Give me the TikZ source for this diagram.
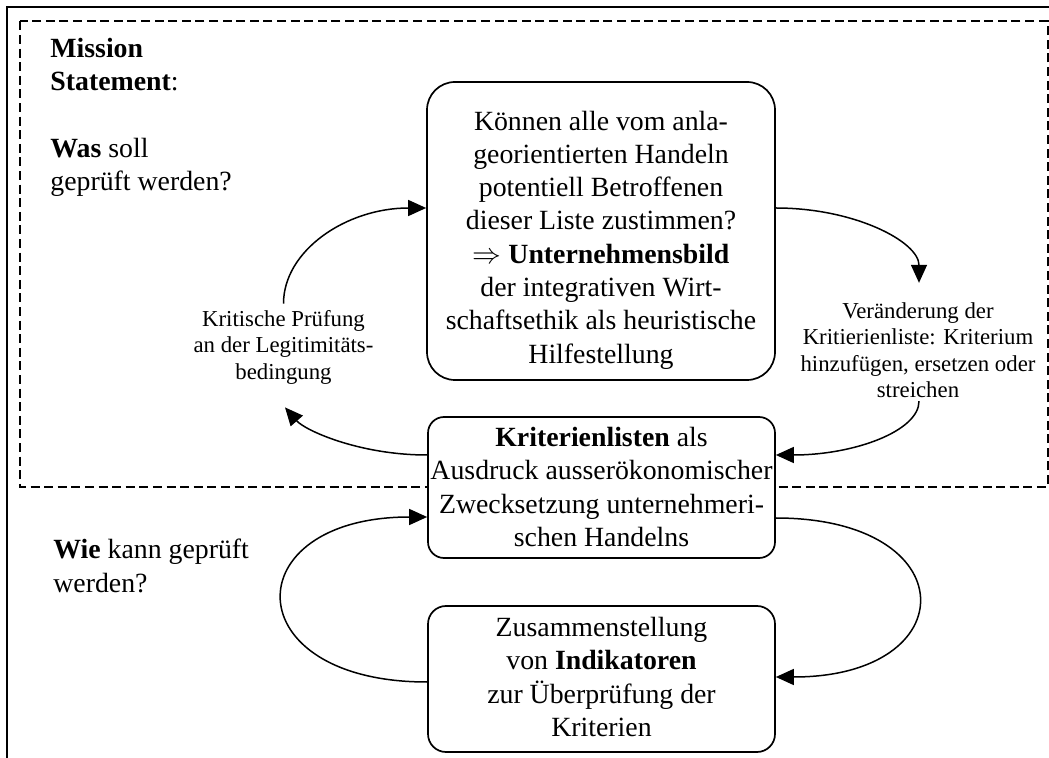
\documentclass[tikz,border=0pt]{standalone}
\usepackage{fontspec}
\setmainfont{Liberation Serif}
\usetikzlibrary{arrows.meta,calc}
\begin{document}
\begin{tikzpicture}[x=0.5pt,y=-0.5pt,
  bigtxt/.style={font=\fontsize{13.9pt}{16.65pt}\selectfont},
  smalltxt/.style={font=\fontsize{11.4pt}{13.25pt}\selectfont},
  box/.style={draw, line width=0.85pt, fill=white, inner sep=0pt},
  lbl/.style={inner sep=0pt, align=center},
  conn/.style={line width=0.75pt, -{Triangle[length=9pt,width=8pt]}},
]
\useasboundingbox (0,0) rectangle (1049,758);
% outer frame
\draw[line width=1.2pt] (7,758) -- (7,7) -- (1049,7);
% dashed area
\draw[line width=1pt, dash pattern=on 4.5pt off 2.3pt] (20,21.5) rectangle (1047.5,487);
% boxes
\node[box, rounded corners=14pt, minimum width=174pt, minimum height=149pt] (b1) at (601,231) {};
\node[box, rounded corners=8pt, minimum width=173.5pt, minimum height=70.5pt] (b2) at (601.5,487.5) {};
\node[box, rounded corners=9pt, minimum width=173.5pt, minimum height=73pt] (b3) at (601.5,679) {};
% box texts
\node[lbl, bigtxt] (t1) at (601,240) {Können alle vom anla-\\georientierten Handeln\\potentiell Betroffenen\\dieser Liste zustimmen?\\$\Rightarrow$ \textbf{Unternehmensbild}\\der integrativen Wirt-\\schaftsethik als heuristische\\Hilfestellung};
\node[lbl, bigtxt] (t2) at (601.5,487) {\textbf{Kriterienlisten} als\\Ausdruck ausserökonomischer\\Zwecksetzung unternehmeri-\\schen Handelns};
\node[lbl, bigtxt] (t3) at (601.5,677) {Zusammenstellung\\von \textbf{Indikatoren}\\zur Überprüfung der\\Kriterien};
% left texts
\node[bigtxt, anchor=north west, inner sep=0pt, align=left] (ms) at (50,38) {\textbf{Mission}\\\textbf{Statement}:\\[16.65pt]\textbf{Was} soll\\geprüft werden?};
\node[bigtxt, anchor=north west, inner sep=0pt, align=left] (wie) at (53,539) {\textbf{Wie} kann geprüft\\werden?};
% labels
\node[lbl, smalltxt, inner sep=3pt] (tl) at (283.5,347) {Kritische Prüfung\\an der Legitimitäts-\\bedingung};
\node[lbl, smalltxt] (tr) at (918,350) {Veränderung der\\Kritierienliste: Kriterium\\hinzufügen, ersetzen oder\\streichen};
% connectors
\draw[conn] ($(b1.east)+(0,-23)$) .. controls +(79,0) and +(0,-41) .. ($(tr.north)+(1,-19)$);
\draw[conn] ($(tr.south)+(1,3)$) .. controls +(0,30) and +(78,0) .. ($(b2.east)+(0,-32.5)$);
\draw[conn] ($(b2.west)+(0,-32.5)$) .. controls +(-68,0) and +(20,23) .. ($(tl.south)+(1.5,17)$);
\draw[conn] (tl.north) .. controls +(0,-53) and +(-80,0) .. ($(b1.west)+(0,-23)$);
\draw[conn] ($(b2.east)+(0,30.5)$) .. controls +(190,0) and +(190,0) .. ($(b3.east)+(0,-2)$);
\draw[conn] ($(b3.west)+(0,3)$) .. controls +(-193,0) and +(-193,0) .. ($(b2.west)+(0,29.5)$);
\end{tikzpicture}
\end{document}
